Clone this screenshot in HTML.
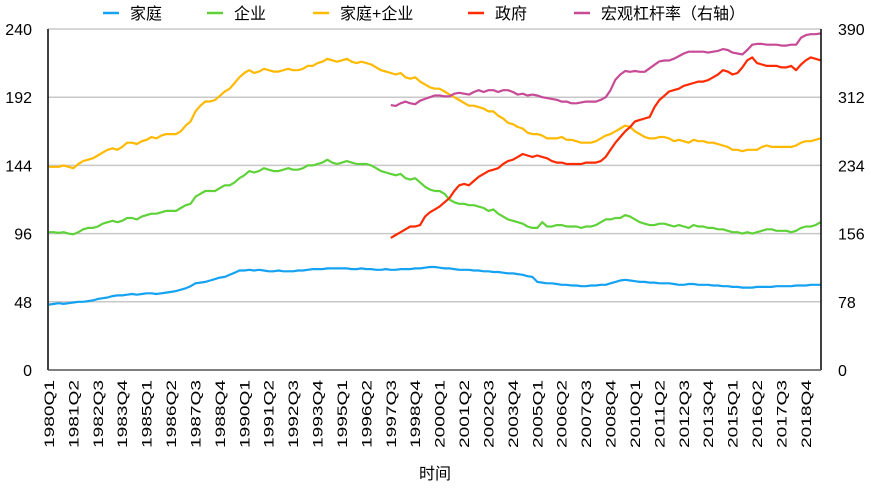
<!DOCTYPE html>
<html><head><meta charset="utf-8"><style>
html,body{margin:0;padding:0;background:#fff;}
svg{display:block;font-family:"Liberation Sans","Noto Sans CJK SC",sans-serif;}
</style></head><body>
<svg id="chart" width="871" height="488" viewBox="0 0 871 488" xmlns="http://www.w3.org/2000/svg">
<g id="grid"></g>
<g id="series"></g>
<g id="axes"></g>
<g id="legend"></g>
<text x="435" y="479" text-anchor="middle" font-size="16">时间</text>
</svg>
<script>
const leftTicks = [0, 48, 96, 144, 192, 240];
const rightTicks = [0, 78, 156, 234, 312, 390];
const startYear = 1980;
const household = [46,46.5,47,46.5,47,47.5,48,48,48.5,49,50,50.5,51,52,52.5,52.5,53,53.5,53,53.5,54,54,53.5,54,54.5,55,55.5,56.5,57.5,59,61,61.5,62,63,64,65,65.5,67,68.5,70,70,70.5,70,70.5,70,69.5,69.5,70,69.5,69.5,69.5,70,70,70.5,71,71,71,71.5,71.5,71.5,71.5,71.5,71,71,71.5,71,71,70.5,70.5,71,70.5,70.5,71,71,71,71.5,71.5,72,72.5,72.5,72,71.5,71.5,71,70.5,70.5,70.5,70,70,69.5,69.5,69,69,68.5,68,68,67.5,67,66,65.5,62,61.5,61,61,60.5,60,60,59.5,59.5,59,59,59.5,59.5,60,60,61,62,63,63.5,63,62.5,62,62,61.5,61.5,61,61,61,60.5,60,60,60.5,60.5,60,60,60,59.5,59.5,59,59,58.5,58.5,58,58,58,58.5,58.5,58.5,58.5,59,59,59,59,59.5,59.5,59.5,60,60,60];
const enterprise = [97,97,96.5,97,96,95.5,97,99,100,100,101,103,104,105,104,105,107,107,106,108,109,110,110,111,112,112,112,114,116,117,122,124,126,126,126,128,130,130,132,135,137,140,139,140,142,141,140,140,141,142,141,141,142,144,144,145,146,148,146,145,146,147,146,145,145,145,144,142,140,139,138,137,138,135,134,135,132,129,127,126,126,124,120,118,117,117,116,116,115,114,112,113,110,108,106,105,104,103,101,100,100,104,101,101,102,102,101,101,101,100,101,101,102,104,106,106,107,107,109,108,106,104,103,102,102,103,103,102,101,102,101,100,102,101,101,100,100,99,99,98,97,97,96,97,96,97,98,99,99,98,98,98,97,98,100,101,101,102,104];
const combined = [143,143,143,144,143,142,145,147,148,149,151,153,155,156,155,157,160,160,159,161,162,164,163,165,166,166,166,168,172,175,182,186,189,189,190,193,196,198,202,206,209,211,209,210,212,211,210,210,211,212,211,211,212,214,214,216,217,219,218,217,218,219,217,216,217,216,215,213,211,210,209,208,209,206,205,206,203,201,199,198,198,196,194,192,190,188,186,186,185,184,182,182,179,177,174,173,171,170,167,166,166,165,163,163,163,164,162,162,161,160,160,160,161,163,165,166,168,170,172,171,168,166,164,163,163,164,164,163,161,162,161,160,162,161,161,160,160,159,158,157,155,155,154,155,155,155,157,158,157,157,157,157,157,158,160,161,161,162,163];
const govStart = 70;
const government = [93,95,97,99,101,101,102,108,111,113,115,118,121,126,130,131,130,133,136,138,140,141,142,145,147,148,150,152,151,150,151,150,149,147,146,146,145,145,145,145,146,146,146,147,150,155,160,164,168,171,175,176,177,178,185,190,193,196,197,198,200,201,202,203,203,204,206,208,211,210,208,209,213,218,220,216,215,214,214,214,213,213,214,211,215,218,220,219,218];
const macro = [303,302,305,307,305,304,308,310,312,314,314,313,313,316,317,316,315,318,320,318,320,320,318,320,320,318,315,316,314,315,314,312,311,310,309,307,307,305,305,306,307,307,307,309,312,320,332,338,342,341,342,341,341,345,349,353,354,354,356,359,362,364,364,364,364,363,364,365,367,366,363,362,361,366,372,373,373,372,372,372,371,371,372,372,380,383,384,384,385];

const X0 = 49, DX = 4.883, TOP = 29, BOT = 370, PL = 48, PR = 821;
const xs = i => X0 + i * DX;
const yL = v => BOT - v * (BOT - TOP) / 240;
const yR = v => BOT - v * (BOT - TOP) / 390;
const NS = "http://www.w3.org/2000/svg";
function mk(tag, attrs, parent) {
  const e = document.createElementNS(NS, tag);
  for (const k in attrs) e.setAttribute(k, attrs[k]);
  parent.appendChild(e);
  return e;
}
const grid = document.getElementById('grid');
const axes = document.getElementById('axes');
const series = document.getElementById('series');
const legend = document.getElementById('legend');

leftTicks.forEach((t, i) => {
  const y = yL(t);
  if (t > 0) {
    const g = mk('line', {x1: PL, x2: PR, y1: y, y2: y, stroke: '#c8c8c8', 'stroke-width': 1.5}, grid);
    
    
  }
  const lt = mk('text', {x: 32, y: y + 6, 'text-anchor': 'end', 'font-size': 16}, axes);
  lt.textContent = t;
  
  
  const rt = mk('text', {x: 838, y: yR(rightTicks[i]) + 6, 'text-anchor': 'start', 'font-size': 16}, axes);
  rt.textContent = rightTicks[i];
  
  
});
const la = mk('line', {x1: PL, x2: PL, y1: TOP, y2: BOT, stroke: '#000', 'stroke-width': 1.5}, axes);


const ra = mk('line', {x1: PR, x2: PR, y1: TOP, y2: BOT, stroke: '#000', 'stroke-width': 1.5}, axes);


const ba = mk('line', {x1: PL, x2: PR, y1: BOT, y2: BOT, stroke: '#555', 'stroke-width': 1.5}, axes);



for (let i = 0; i <= 155; i += 5) {
  const yr = startYear + Math.floor(i / 4), q = i % 4 + 1;
  const x = xs(i) + 5;
  const t = mk('text', {x: x, y: 380, 'text-anchor': 'end', 'font-size': 14, textLength: 68, lengthAdjust: 'spacingAndGlyphs', transform: `rotate(-90 ${x} 380)`}, axes);
  t.textContent = yr + 'Q' + q;
  
  
}

function drawLine(vals, offset, yf, color, name) {
  const d = vals.map((v, i) => (i ? 'L' : 'M') + xs(i + offset).toFixed(1) + ' ' + yf(v).toFixed(1)).join(' ');
  const p = mk('path', {d: d, fill: 'none', stroke: color, 'stroke-width': 2.2, 'stroke-linejoin': 'round'}, series);
  
  
}
const C = {hh: '#15a2f2', ent: '#5fd23a', comb: '#ffb900', gov: '#ff2a00', mac: '#c64a96'};
drawLine(household, 0, yL, C.hh, 'household-line');
drawLine(enterprise, 0, yL, C.ent, 'enterprise-line');
drawLine(combined, 0, yL, C.comb, 'household-enterprise-line');
drawLine(macro, govStart, yR, C.mac, 'macro-leverage-line');
drawLine(government, govStart, yL, C.gov, 'government-line');

const legItems = [['家庭', C.hh, 103], ['企业', C.ent, 207], ['家庭+企业', C.comb, 313], ['政府', C.gov, 468], ['宏观杠杆率（右轴）', C.mac, 574]];
legItems.forEach(([lab, col, x]) => {
  const g = mk('g', {}, legend);
  
  
  mk('line', {x1: x, x2: x + 16, y1: 13, y2: 13, stroke: col, 'stroke-width': 2.5}, g);
  const t = mk('text', {x: x + 27, y: 19, 'font-size': 16}, g);
  t.textContent = lab;
});
</script>
</body></html>
